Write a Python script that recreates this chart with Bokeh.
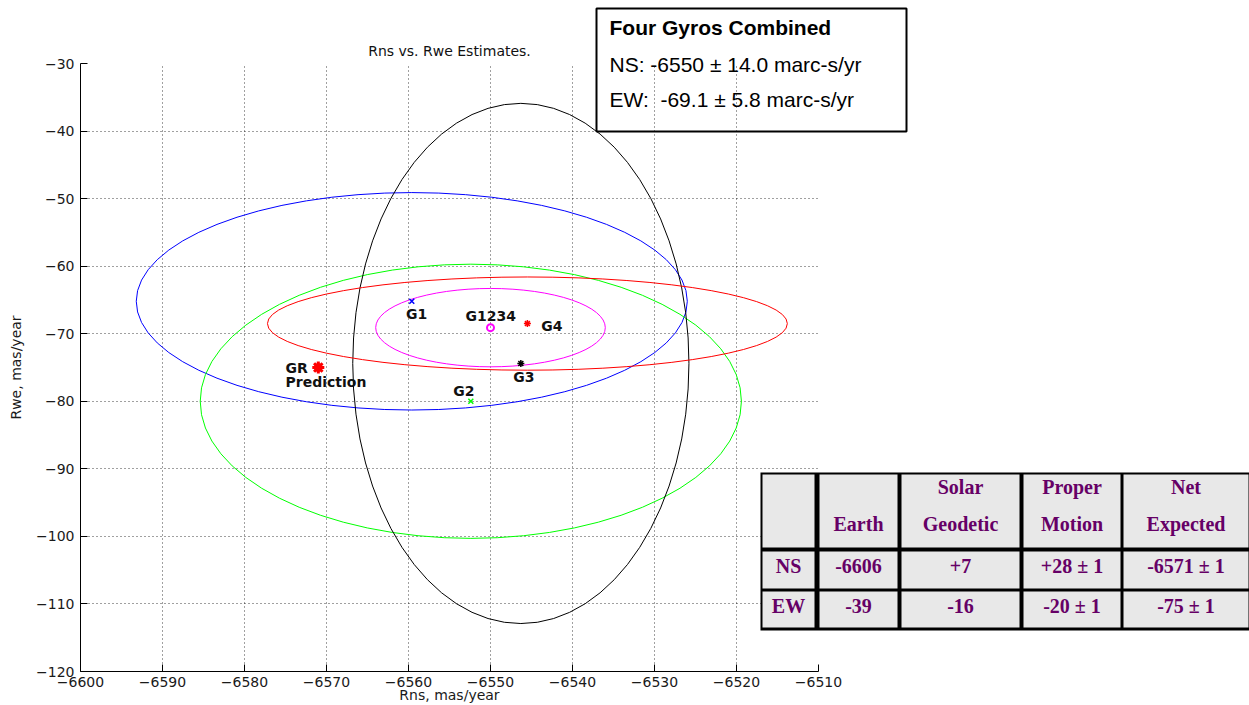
from bokeh.plotting import figure
from bokeh.models import ColumnDataSource, FixedTicker, Range1d, GridBox
from bokeh.embed import file_html
from bokeh.resources import INLINE
from bokeh.core.properties import value

# Individual gyro estimates and their 1-sigma half-widths (mas/yr)
gyro_names = ["G1", "G2", "G3", "G4", "G1234"]
rns = [-6559.6, -6552.4, -6546.3, -6545.5, -6550.0]
rwe = [-65.2, -80.0, -74.4, -68.5, -69.1]
rns_err = [33.6, 33.0, 20.5, 31.7, 14.0]
rwe_err = [16.1, 20.3, 38.5, 6.9, 5.8]

# Expected contributions (table)
table_head_1 = ["", "", "Solar", "Proper", "Net"]
table_head_2 = ["", "Earth", "Geodetic", "Motion", "Expected"]
table_ns = ["NS", "-6606", "+7", "+28 ± 1", "-6571 ± 1"]
table_ew = ["EW", "-39", "-16", "-20 ± 1", "-75 ± 1"]

# GR prediction = net expected
gr_rns = -6571
gr_rwe = -75

x_ticks = [-6600, -6590, -6580, -6570, -6560, -6550, -6540, -6530, -6520, -6510]
x_tick_labels = ["−6600", "−6590", "−6580", "−6570", "−6560", "−6550", "−6540", "−6530", "−6520", "−6510"]
y_ticks = [-120, -110, -100, -90, -80, -70, -60, -50, -40, -30]
y_tick_labels = ["−120", "−110", "−100", "−90", "−80", "−70", "−60", "−50", "−40", "−30"]

# styling
colors = ["#0000ff", "#00ff00", "#000000", "#ff0000", "#ff00ff"]
markers = ["x", "x", "asterisk", "asterisk"]
label_dx = [-5.7, -17.6, -7.6, 13.8, -25.0]
label_dy = [12.5, -10.5, 13.5, 2.0, -11.7]

FONT = "DejaVu Sans"
W, H = 1249, 705

# ---------------------------------------------------------------- main chart
p = figure(width=W, height=H,
           x_range=Range1d(-6600, -6510), y_range=Range1d(-120, -30),
           output_backend="svg", toolbar_location=None,
           min_border_left=80, min_border_right=431,
           min_border_top=63, min_border_bottom=34,
           title="Rns vs. Rwe Estimates.")
p.frame_align = False
p.outline_line_color = None
p.background_fill_color = "white"
p.border_fill_color = "white"

p.title.align = "center"
p.title.text_font = FONT
p.title.text_font_size = "14px"
p.title.text_font_style = "normal"
p.title.text_color = "#111111"
p.title.standoff = 10

p.xaxis.ticker = FixedTicker(ticks=x_ticks, minor_ticks=[])
p.xaxis.major_label_overrides = dict(zip(x_ticks, x_tick_labels))
p.yaxis.ticker = FixedTicker(ticks=y_ticks, minor_ticks=[])
p.yaxis.major_label_overrides = dict(zip(y_ticks, y_tick_labels))
p.xaxis.axis_label = "Rns, mas/year"
p.yaxis.axis_label = "Rwe, mas/year"

for ax in (p.xaxis[0], p.yaxis[0]):
    ax.axis_line_color = "#000000"
    ax.axis_line_width = 1
    ax.major_tick_in = 7
    ax.major_tick_out = 0
    ax.major_tick_line_color = "#000000"
    ax.minor_tick_line_color = None
    ax.major_label_text_font = FONT
    ax.major_label_text_font_size = "14px"
    ax.major_label_text_color = "#1a1a1a"
    ax.axis_label_text_font = FONT
    ax.axis_label_text_font_size = "14px"
    ax.axis_label_text_font_style = "normal"
    ax.axis_label_text_color = "#1a1a1a"
    ax.major_label_text_line_height = 1.0
    ax.axis_label_text_line_height = 1.0

p.xaxis.major_label_standoff = 5
p.xaxis.axis_label_standoff = -3
p.yaxis.major_label_standoff = 6
p.yaxis.axis_label_standoff = 9

p.grid.grid_line_color = "#000000"
p.grid.grid_line_alpha = 0.75
p.grid.grid_line_dash = "1 3"
p.grid.grid_line_width = 1

# error ellipses
ell = ColumnDataSource(dict(
    x=rns, y=rwe,
    w=[2 * e for e in rns_err], h=[2 * e for e in rwe_err],
    c=colors,
))
p.ellipse(x="x", y="y", width="w", height="h", source=ell,
          fill_color=None, line_color="c", line_width=1)

# single-gyro estimates
single = ColumnDataSource(dict(x=rns[:4], y=rwe[:4], c=colors[:4], m=markers))
p.scatter(x="x", y="y", marker="m", size=7, line_color="c", line_width=1.5,
          source=single)
# combined estimate
p.scatter(x=[rns[4]], y=[rwe[4]], marker="circle", size=7,
          fill_color=None, line_color=colors[4], line_width=2)
# GR prediction
p.scatter(x=[gr_rns], y=[gr_rwe], marker="circle", size=8,
          fill_color="#ff0000", line_color="#ff0000")
p.scatter(x=[gr_rns], y=[gr_rwe], marker="asterisk", size=12,
          line_color="#ff0000", line_width=3)

labels = ColumnDataSource(dict(x=rns, y=rwe, t=gyro_names, dx=label_dx, dy=label_dy))
p.text(x="x", y="y", text="t", x_offset="dx", y_offset="dy", source=labels,
       text_font=value(FONT), text_font_size="14px", text_font_style="bold",
       text_color="#111111", text_baseline="alphabetic", text_align="left")
p.text(x=[gr_rns, gr_rns], y=[gr_rwe, gr_rwe], text=["GR", "Prediction"],
       x_offset=[-32.8, -32.8], y_offset=[0.5, 14.5],
       text_font=value(FONT), text_font_size="14px", text_font_style="bold",
       text_color="#111111", text_baseline="alphabetic", text_align="left")

# ------------------------------------------- overlay in page pixels (y down)
q = figure(width=W, height=H, x_range=Range1d(0, W), y_range=Range1d(H, 0),
           x_axis_type=None, y_axis_type=None,
           output_backend="svg", toolbar_location=None, min_border=0)
q.frame_align = False
q.outline_line_color = None
q.background_fill_color = None
q.border_fill_color = None

# summary box for the combined estimate
q.quad(left=[596], right=[906], top=[8], bottom=[131],
       fill_color=None, line_color="#000000", line_width=2)
box_text = [
    "Four Gyros Combined",
    f"NS: {rns[4]:.0f} ± {rns_err[4]:.1f} marc-s/yr",
    f"EW:\u00a0 {rwe[4]:.1f} ± {rwe_err[4]:.1f} marc-s/yr",
]
q.text(x=[609], y=[27], text=box_text[:1],
       text_font=value("Liberation Sans"), text_font_size="21px",
       text_font_style="bold", text_color="#000000",
       text_baseline="alphabetic", text_align="left")
q.text(x=[609, 609], y=[64.2, 98.5], text=box_text[1:],
       text_font=value("Liberation Sans"), text_font_size="21px",
       text_color="#000000", text_baseline="alphabetic", text_align="left")

# table of expected contributions
col_edges = [(762, 814), (819, 897), (901, 1019), (1023, 1120), (1123, 1248)]
row_edges = [(474, 547), (551, 588), (591, 627)]
q.quad(left=[760], right=[1250], top=[472], bottom=[630],
       fill_color="#000000", line_color=None)
cl, cr, ct, cb = [], [], [], []
for (l, r) in col_edges:
    for (t, b) in row_edges:
        cl.append(l); cr.append(r); ct.append(t); cb.append(b)
q.quad(left=cl, right=cr, top=ct, bottom=cb, fill_color="#e8e8e8", line_color=None)

tx, ty, tt = [], [], []
for cells, base in [(table_head_1, 486), (table_head_2, 523), (table_ns, 565), (table_ew, 605)]:
    for (l, r), txt in zip(col_edges, cells):
        if txt:
            tx.append((l + r) / 2); ty.append(base); tt.append(txt)
q.text(x=tx, y=ty, text=tt,
       text_font=value("Liberation Serif"), text_font_size="20px",
       text_font_style="bold", text_color="#660066",
       text_baseline="alphabetic", text_align="center")

# chart and overlay share one grid cell; the overlay is drawn on top
layout = GridBox(children=[(p, 0, 0), (q, 0, 0)])

open("out.html", "w").write(file_html(layout, INLINE))
